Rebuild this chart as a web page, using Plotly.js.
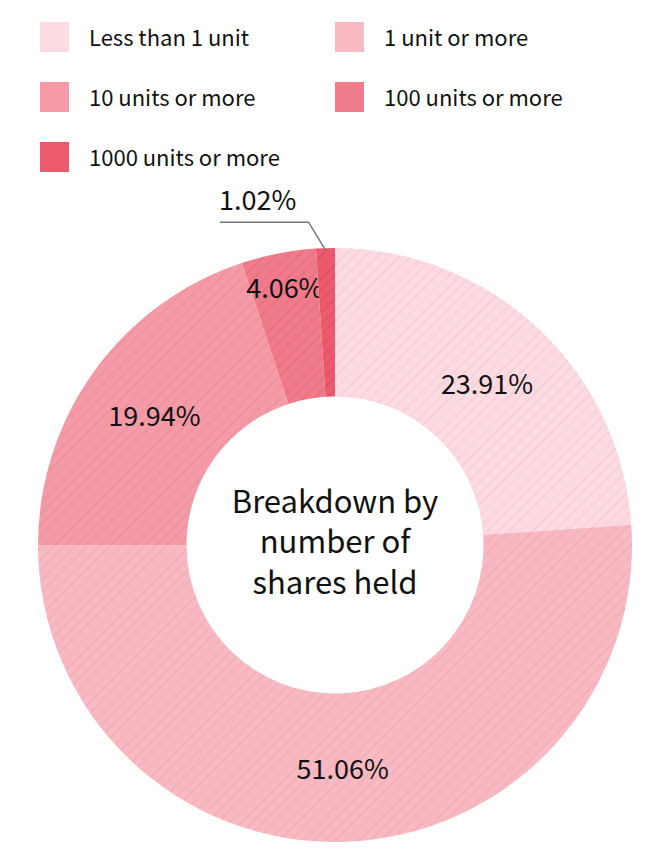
<!DOCTYPE html>
<html>
<head>
<meta charset="utf-8">
<script src="https://cdn.plot.ly/plotly-3.0.1.min.js"></script>
<style>
  html, body { margin: 0; padding: 0; background: #fff; }
  #chart { width: 670px; height: 864px; }
</style>
</head>
<body>
<div id="chart"></div>
<script>
// shareholder breakdown by number of shares held
const categories = ['Less than 1 unit', '1 unit or more', '10 units or more', '100 units or more', '1000 units or more'];
const shares = [23.91, 51.06, 19.94, 4.06, 1.02];
const sliceColors = ['#fbdbe1', '#f8b9c3', '#f49ba7', '#f07b8b', '#ec5a6e'];
const stripeColors = ['#f4c9d1', '#f1a9b4', '#ec8b98', '#e76b7c', '#e04a5f'];
// the smallest slice gets its label outside, with a leader line
const textPositions = ['inside', 'inside', 'inside', 'inside', 'none'];

const W = 670, H = 864;
const cx = 335, cy = 545, outerR = 297;
const font = '"Noto Sans CJK JP", "Noto Sans", sans-serif';

const donut = {
    type: 'pie',
    labels: categories,
    values: shares,
    sort: false,
    direction: 'clockwise',
    rotation: 0,
    hole: 0.5,
    domain: { x: [(cx - outerR) / W, (cx + outerR) / W], y: [(H - cy - outerR) / H, (H - cy + outerR) / H] },
    marker: {
        colors: sliceColors,
        line: { width: 0 },
        pattern: { shape: '/', bgcolor: sliceColors, fgcolor: stripeColors, fgopacity: 0.7, size: 8, solidity: 0.2 }
    },
    texttemplate: '%{value:.2f}%',
    textposition: textPositions,
    insidetextorientation: 'horizontal',
    textfont: { family: font, size: 27, color: '#111' },
    title: {
        text: 'Breakdown by<br>number of<br>shares held',
        position: 'middle center',
        font: { family: font, size: 31, color: '#111' }
    },
    showlegend: false,
    hoverinfo: 'none'
};

// legend drawn by hand: two columns of big swatches
const shapes = [];
const annotations = [];
categories.forEach((name, i) => {
    const col = i % 2;
    const row = Math.floor(i / 2);
    const x0 = col === 0 ? 40 : 335;
    const yc = 37 + row * 60;
    shapes.push({
        type: 'rect', xref: 'paper', yref: 'paper',
        x0: x0 / W, x1: (x0 + 29) / W,
        y0: 1 - (yc + 15) / H, y1: 1 - (yc - 15) / H,
        fillcolor: sliceColors[i], line: { width: 0 }
    });
    annotations.push({
        text: name, xref: 'paper', yref: 'paper',
        x: (x0 + 47) / W, y: 1 - (yc - 1) / H,
        xanchor: 'left', yanchor: 'middle', showarrow: false,
        font: { family: font, size: 22, color: '#111' }
    });
});

// leader line to the last slice: find its mid angle from the data
const total = shares.reduce((a, b) => a + b, 0);
const last = shares.length - 1;
const before = shares.slice(0, last).reduce((a, b) => a + b, 0);
const midAngle = (before + shares[last] / 2) / total * 2 * Math.PI;
const tipX = cx + (outerR - 2) * Math.sin(midAngle);
const tipY = cy - (outerR - 2) * Math.cos(midAngle);
const elbowX = tipX - 17, elbowY = tipY - 28;
const px = x => x / W, py = y => 1 - y / H;
shapes.push({
    type: 'path', xref: 'paper', yref: 'paper',
    path: `M${px(220)},${py(elbowY)} L${px(elbowX)},${py(elbowY)} L${px(tipX)},${py(tipY)}`,
    line: { color: '#777', width: 1.5 }
});
annotations.push({
    text: shares[last].toFixed(2) + '%', xref: 'paper', yref: 'paper',
    x: px(217), y: py(elbowY - 2),
    xanchor: 'left', yanchor: 'bottom', showarrow: false,
    font: { family: font, size: 27, color: '#111' }
});

const layout = {
    width: W,
    height: H,
    margin: { l: 0, r: 0, t: 0, b: 0 },
    paper_bgcolor: '#fff',
    uniformtext: { mode: 'show', minsize: 27 },
    shapes: shapes,
    annotations: annotations
};

Plotly.newPlot('chart', [donut], layout, { displayModeBar: false, staticPlot: true });
</script>
</body>
</html>
